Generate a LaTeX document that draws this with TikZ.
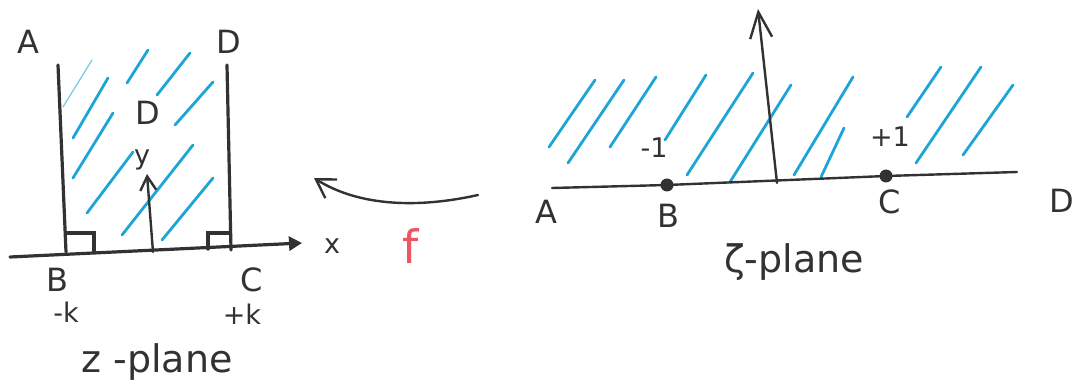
\documentclass[tikz,border=0pt]{standalone}
\usepackage{fontspec}
\setmainfont{DejaVu Sans}
\usetikzlibrary{arrows.meta}
\definecolor{hatch}{RGB}{30,165,215}
\definecolor{hatchfaint}{RGB}{120,200,230}
\definecolor{ink}{RGB}{50,50,50}
\definecolor{redink}{RGB}{238,85,95}
\begin{document}
\begin{tikzpicture}[x=1pt,y=-1pt,
  hatchline/.style={hatch, line width=2.8pt, line cap=round},
  inkline/.style={ink, line width=3.2pt, line cap=round},
  thinink/.style={ink, line width=2.4pt, line cap=round},
  lbl/.style={ink, inner sep=0pt, font=\fontsize{32}{32}\selectfont},
  small/.style={ink, inner sep=0pt, font=\fontsize{27}{27}\selectfont},
  planelbl/.style={ink, inner sep=0pt, font=\fontsize{38}{38}\selectfont},
  dot/.style={circle, fill=ink, inner sep=0pt, minimum size=13pt}]
\useasboundingbox (0,0) rectangle (1077,385);
\fill[white] (0,0) rectangle (1077,385);

% ---------------- z-plane ----------------
% hatching
\draw[hatchfaint, line width=1.2pt, line cap=round] (63,107) -- (92,60);
\foreach \p/\q/\r/\s in {73/138/108/78, 127/83/148/50, 157/95/190/53,
  73/178/113/113, 175/125/213/82, 87/213/133/152,
  122/235/193/145, 162/240/213/178}
  \draw[hatchline] (\p,\q) -- (\r,\s);

\coordinate (Ltop) at (58,65);
\coordinate (Lbot) at (66,252);
\coordinate (Rtop) at (227,65);
\coordinate (Rbot) at (231,250);
\coordinate (xstart) at (10,257);
\coordinate (xend) at (302,243);
\coordinate (ybot) at (153,252);
\coordinate (ytip) at (147,174);

\draw[inkline] (Ltop) -- (Lbot);
\draw[inkline] (Rtop) -- (Rbot);
\draw[inkline, -{Triangle[length=13pt,width=14pt]}] (xstart) -- (xend);
\draw[thinink, -{Straight Barb[length=14pt,width=16pt,line width=2.4pt]}] (ybot) -- (ytip);
% right-angle marks
\draw[inkline] (66,233) -- (94,233) -- (94,251);
\draw[inkline] (230,233) -- (208,233) -- (208,249);

\node[lbl] (zA) at (28,42) {A};
\node[lbl] (zD) at (229,42) {D};
\node[lbl] (zDin) at (148,113) {D};
\node[small] (zy) at (142,160) {y};
\node[small] (zx) at (332,246) {x};
\node[lbl] (zB) at (57,280) {B};
\node[lbl] (zC) at (252,280) {C};
\node[small] (zmk) at (66,312) {-k};
\node[small] (zpk) at (242,314) {+k};
\node[planelbl] (zplane) at (157,362) {z -plane};

% ---------------- mapping arrow ----------------
\coordinate (fstart) at (478,195);
\coordinate (fend) at (314,178);
\draw[thinink, -{Straight Barb[length=18pt,width=22pt,line width=2.4pt]}]
  (fstart) .. controls (420,208) and (360,207) .. (fend);
\node[inner sep=0pt, text=redink, font=\fontsize{46}{46}\selectfont] (f) at (411,246) {f};

% ---------------- zeta-plane ----------------
\foreach \p/\q/\r/\s in {549/147/595/80, 568/163/624/80, 610/147/656/77,
  665/140/706/75, 687/175/753/73, 730/182/791/85,
  794/175/853/77, 821/177/844/128, 907/117/941/67,
  916/163/981/67, 963/155/1013/85}
  \draw[hatchline] (\p,\q) -- (\r,\s);

\coordinate (Astart) at (552,188);
\coordinate (Dend) at (1017,172);
\node[dot] (pB) at (667,185) {};
\node[dot] (pC) at (886,176) {};
\draw[thinink] (Astart) -- (pB.center) -- (pC.center) -- (Dend);
\coordinate (vbot) at (777,183);
\coordinate (vtip) at (758,9);
\draw[thinink, -{Straight Barb[length=26pt,width=22pt,line width=2.4pt]}] (vbot) -- (vtip);

\node[lbl] (wA) at (546,212) {A};
\node[lbl] (wB) at (668,216) {B};
\node[lbl] (wC) at (890,202) {C};
\node[lbl] (wD) at (1062,201) {D};
\node[small] (wm1) at (654,148) {-1};
\node[small] (wp1) at (890,137) {+1};
\node[planelbl] (wplane) at (794,262) {ζ-plane};
\end{tikzpicture}
\end{document}
